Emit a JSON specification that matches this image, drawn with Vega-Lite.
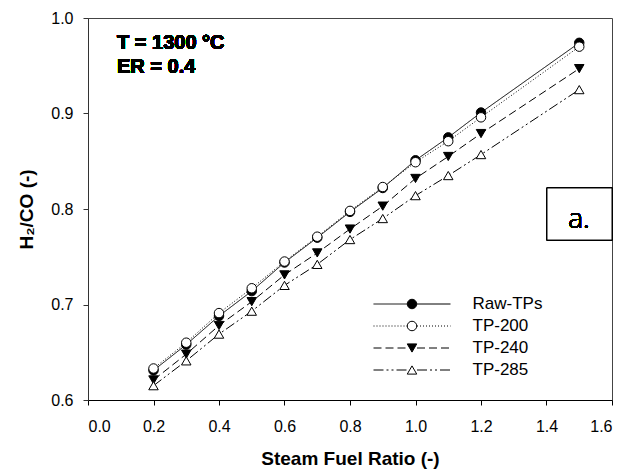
{
  "$schema": "https://vega.github.io/schema/vega-lite/v6.json",
  "width": 524,
  "height": 382,
  "autosize": {"type": "none"},
  "padding": {"left": 88, "top": 18, "right": 15, "bottom": 75},
  "background": "white",
  "config": {
    "font": "Liberation Sans",
    "view": {"stroke": "#444", "strokeWidth": 1},
    "axis": {
      "grid": false,
      "labelFont": "Liberation Sans",
      "labelFontSize": 16,
      "labelColor": "black",
      "titleFont": "Liberation Sans",
      "titleFontSize": 19,
      "titleFontWeight": "bold",
      "titleColor": "black",
      "domainColor": "#333",
      "tickColor": "#333",
      "tickSize": 5
    }
  },
  "data": {
    "values": [
      {"sfr": 0.2, "h2co": 0.631, "series": "Raw-TPs"},
      {"sfr": 0.3, "h2co": 0.658, "series": "Raw-TPs"},
      {"sfr": 0.4, "h2co": 0.688, "series": "Raw-TPs"},
      {"sfr": 0.5, "h2co": 0.714, "series": "Raw-TPs"},
      {"sfr": 0.6, "h2co": 0.744, "series": "Raw-TPs"},
      {"sfr": 0.7, "h2co": 0.770, "series": "Raw-TPs"},
      {"sfr": 0.8, "h2co": 0.797, "series": "Raw-TPs"},
      {"sfr": 0.9, "h2co": 0.822, "series": "Raw-TPs"},
      {"sfr": 1.0, "h2co": 0.851, "series": "Raw-TPs"},
      {"sfr": 1.1, "h2co": 0.875, "series": "Raw-TPs"},
      {"sfr": 1.2, "h2co": 0.901, "series": "Raw-TPs"},
      {"sfr": 1.5, "h2co": 0.974, "series": "Raw-TPs"},
      {"sfr": 0.2, "h2co": 0.633, "series": "TP-200"},
      {"sfr": 0.3, "h2co": 0.660, "series": "TP-200"},
      {"sfr": 0.4, "h2co": 0.691, "series": "TP-200"},
      {"sfr": 0.5, "h2co": 0.717, "series": "TP-200"},
      {"sfr": 0.6, "h2co": 0.745, "series": "TP-200"},
      {"sfr": 0.7, "h2co": 0.771, "series": "TP-200"},
      {"sfr": 0.8, "h2co": 0.798, "series": "TP-200"},
      {"sfr": 0.9, "h2co": 0.823, "series": "TP-200"},
      {"sfr": 1.0, "h2co": 0.849, "series": "TP-200"},
      {"sfr": 1.1, "h2co": 0.871, "series": "TP-200"},
      {"sfr": 1.2, "h2co": 0.896, "series": "TP-200"},
      {"sfr": 1.5, "h2co": 0.970, "series": "TP-200"},
      {"sfr": 0.2, "h2co": 0.621, "series": "TP-240"},
      {"sfr": 0.3, "h2co": 0.648, "series": "TP-240"},
      {"sfr": 0.4, "h2co": 0.678, "series": "TP-240"},
      {"sfr": 0.5, "h2co": 0.703, "series": "TP-240"},
      {"sfr": 0.6, "h2co": 0.731, "series": "TP-240"},
      {"sfr": 0.7, "h2co": 0.754, "series": "TP-240"},
      {"sfr": 0.8, "h2co": 0.779, "series": "TP-240"},
      {"sfr": 0.9, "h2co": 0.803, "series": "TP-240"},
      {"sfr": 1.0, "h2co": 0.832, "series": "TP-240"},
      {"sfr": 1.1, "h2co": 0.855, "series": "TP-240"},
      {"sfr": 1.2, "h2co": 0.879, "series": "TP-240"},
      {"sfr": 1.5, "h2co": 0.947, "series": "TP-240"},
      {"sfr": 0.2, "h2co": 0.615, "series": "TP-285"},
      {"sfr": 0.3, "h2co": 0.641, "series": "TP-285"},
      {"sfr": 0.4, "h2co": 0.669, "series": "TP-285"},
      {"sfr": 0.5, "h2co": 0.693, "series": "TP-285"},
      {"sfr": 0.6, "h2co": 0.720, "series": "TP-285"},
      {"sfr": 0.7, "h2co": 0.742, "series": "TP-285"},
      {"sfr": 0.8, "h2co": 0.768, "series": "TP-285"},
      {"sfr": 0.9, "h2co": 0.790, "series": "TP-285"},
      {"sfr": 1.0, "h2co": 0.814, "series": "TP-285"},
      {"sfr": 1.1, "h2co": 0.835, "series": "TP-285"},
      {"sfr": 1.2, "h2co": 0.857, "series": "TP-285"},
      {"sfr": 1.5, "h2co": 0.925, "series": "TP-285"}
    ]
  },
  "encoding": {
    "x": {
      "field": "sfr", "type": "quantitative",
      "scale": {"domain": [0, 1.6], "nice": false, "zero": false},
      "axis": {"values": [0, 0.2, 0.4, 0.6, 0.8, 1.0, 1.2, 1.4, 1.6], "format": ".1f", "title": "Steam Fuel Ratio (-)", "labelPadding": 13, "titlePadding": 15, "domainColor": "black", "tickColor": "black"}
    },
    "y": {
      "field": "h2co", "type": "quantitative",
      "scale": {"domain": [0.6, 1.0], "nice": false, "zero": false},
      "axis": {"values": [0.6, 0.7, 0.8, 0.9, 1.0], "format": ".1f", "title": "H₂/CO (-)", "labelPadding": 10, "titlePadding": 14}
    }
  },
  "layer": [
    {
      "mark": {"type": "line", "color": "black", "strokeWidth": 1},
      "encoding": {
        "strokeDash": {
          "field": "series", "type": "nominal",
          "scale": {"domain": ["Raw-TPs", "TP-200", "TP-240", "TP-285"], "range": [[1, 0], [1, 2], [8, 4], [10, 3, 2, 3, 2, 3]]},
          "legend": {
            "orient": "none", "legendX": 315.5, "legendY": 277.5, "title": null, "padding": 0,
            "symbolType": "M-7.7,0H-1M1,0H7.7", "symbolSize": 100,
            "symbolStrokeColor": "black", "symbolStrokeWidth": 1,
            "labelFont": "Liberation Sans", "labelFontSize": 17, "labelColor": "black",
            "labelOffset": 52, "rowPadding": 4
          }
        }
      }
    },
    {
      "mark": {"type": "point", "filled": true, "stroke": "black", "strokeWidth": 1, "opacity": 1, "size": 90},
      "encoding": {
        "shape": {
          "field": "series", "type": "nominal",
          "scale": {"range": ["circle", "circle", "triangle-down", "triangle-up"]},
          "legend": {
            "orient": "none", "legendX": 315.5, "legendY": 277.5, "title": null, "padding": 0,
            "symbolSize": 90, "symbolStrokeColor": "black", "symbolStrokeWidth": 1, "symbolOpacity": 1,
            "labelFont": "Liberation Sans", "labelFontSize": 17, "labelColor": "transparent",
            "labelOffset": 52, "rowPadding": 4,
            "encode": {"symbols": {"update": {"stroke": {"value": "black"}, "strokeWidth": {"value": 1}}}}
          }
        },
        "fill": {
          "field": "series", "type": "nominal",
          "scale": {"range": ["black", "white", "black", "white"]},
          "legend": {
            "orient": "none", "legendX": 315.5, "legendY": 277.5, "title": null, "padding": 0,
            "symbolSize": 90, "symbolStrokeColor": "black", "symbolStrokeWidth": 1, "symbolOpacity": 1,
            "labelFont": "Liberation Sans", "labelFontSize": 17, "labelColor": "transparent",
            "labelOffset": 52, "rowPadding": 4,
            "encode": {"symbols": {"update": {"stroke": {"value": "black"}, "strokeWidth": {"value": 1}}}}
          }
        }
      }
    },
    {
      "mark": {"type": "rect", "fill": "white", "stroke": "black", "strokeWidth": 1},
      "encoding": {
        "x": {"datum": 1.4015},
        "x2": {"datum": 1.6},
        "y": {"datum": 0.7675},
        "y2": {"datum": 0.822}
      }
    },
    {
      "mark": {"type": "text", "font": "Open Sans", "fontSize": 28, "fontWeight": 300, "align": "center", "baseline": "alphabetic", "fill": "black", "strokeWidth": 0},
      "encoding": {
        "x": {"datum": 1.499},
        "y": {"datum": 0.7798},
        "text": {"value": "a."}
      }
    },
    {
      "mark": {"type": "text", "font": "Liberation Sans", "fontSize": 20, "fontWeight": "bold", "align": "left", "baseline": "middle", "fill": "black", "strokeWidth": 0},
      "encoding": {
        "x": {"datum": 0.0886},
        "y": {"datum": 0.9743},
        "text": {"value": "T = 1300 °C"}
      }
    },
    {
      "mark": {"type": "text", "font": "Liberation Sans", "fontSize": 20, "fontWeight": "bold", "align": "left", "baseline": "middle", "fill": "black", "strokeWidth": 0},
      "encoding": {
        "x": {"datum": 0.0886},
        "y": {"datum": 0.9482},
        "text": {"value": "ER = 0.4"}
      }
    }
  ]
}
